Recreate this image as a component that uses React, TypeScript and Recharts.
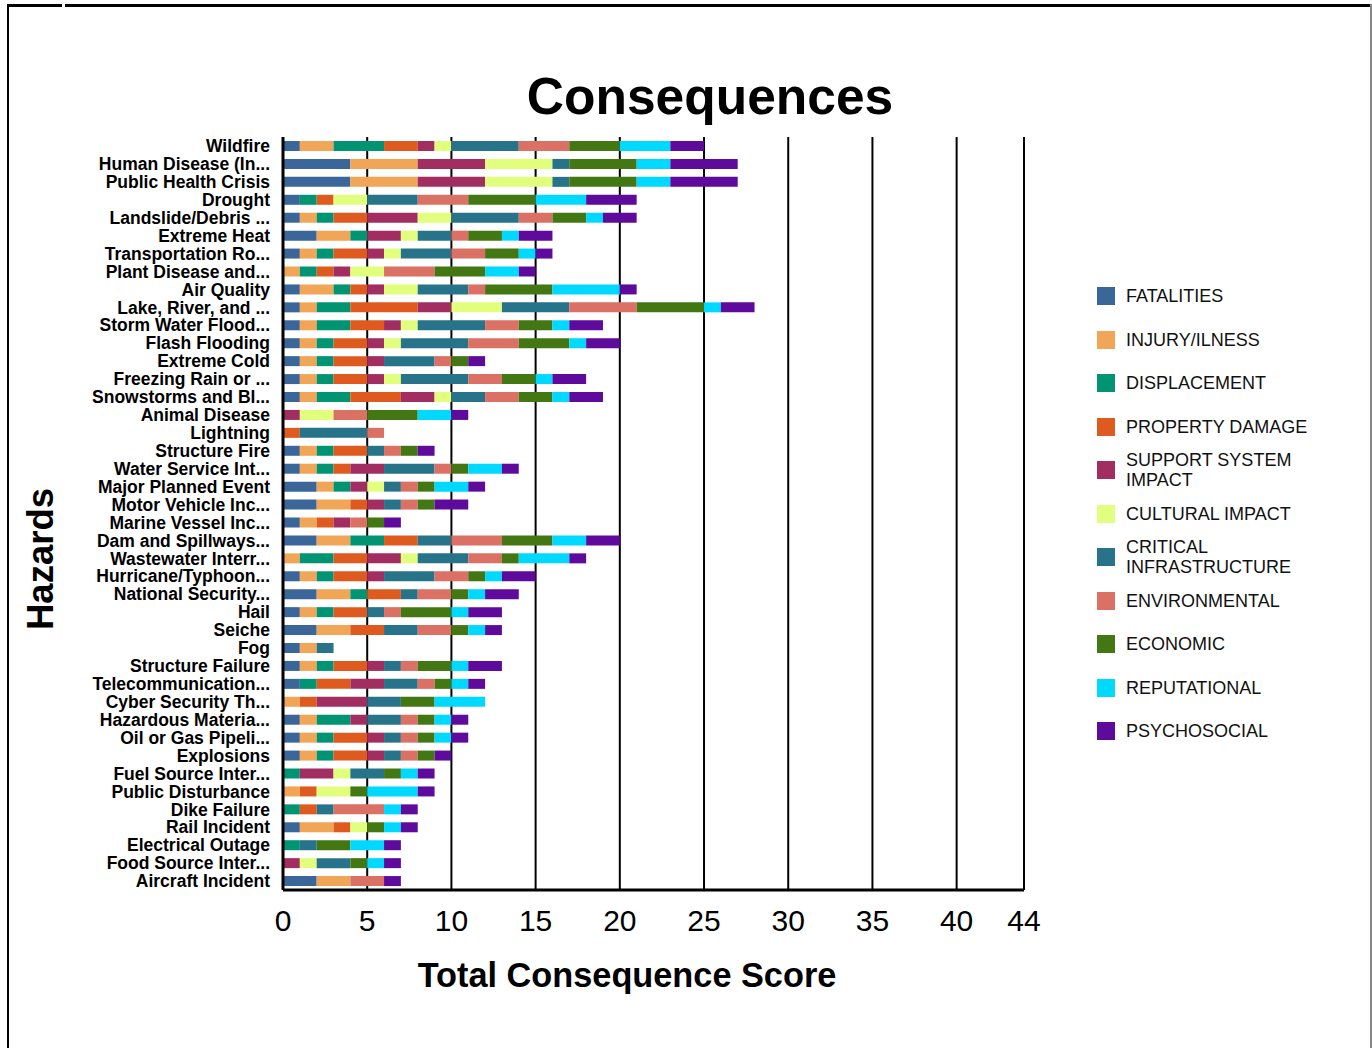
import React from 'react';
import { BarChart, Bar, XAxis, YAxis, CartesianGrid } from 'recharts';

const hazards = [
  'Wildfire', 'Human Disease (In...', 'Public Health Crisis', 'Drought', 'Landslide/Debris ...',
  'Extreme Heat', 'Transportation Ro...', 'Plant Disease and...', 'Air Quality', 'Lake, River, and ...',
  'Storm Water Flood...', 'Flash Flooding', 'Extreme Cold', 'Freezing Rain or ...', 'Snowstorms and Bl...',
  'Animal Disease', 'Lightning', 'Structure Fire', 'Water Service Int...', 'Major Planned Event',
  'Motor Vehicle Inc...', 'Marine Vessel Inc...', 'Dam and Spillways...', 'Wastewater Interr...', 'Hurricane/Typhoon...',
  'National Security...', 'Hail', 'Seiche', 'Fog', 'Structure Failure',
  'Telecommunication...', 'Cyber Security Th...', 'Hazardous Materia...', 'Oil or Gas Pipeli...', 'Explosions',
  'Fuel Source Inter...', 'Public Disturbance', 'Dike Failure', 'Rail Incident', 'Electrical Outage',
  'Food Source Inter...', 'Aircraft Incident',
];

const fatalities = [1,4,4,1,1,2,1,0,1,1,1,1,1,1,1,0,0,1,1,2,2,1,2,0,1,2,1,2,1,1,1,0,1,1,1,0,0,0,1,0,0,2];
const injury = [2,4,4,0,1,2,1,1,2,1,1,1,1,1,1,0,0,1,1,1,2,1,2,1,1,2,1,2,1,1,0,1,1,1,1,0,1,0,2,0,0,2];
const displacement = [3,0,0,1,1,1,1,1,1,2,2,1,1,1,2,0,0,1,1,1,0,0,2,2,1,1,1,0,0,1,1,0,2,1,1,1,0,1,0,1,0,0];
const propertyDamage = [2,0,0,1,2,0,2,1,1,4,2,2,2,2,3,0,1,2,1,0,1,1,2,2,2,2,2,2,0,2,2,1,0,2,2,0,1,1,1,0,0,0];
const supportSystem = [1,4,4,0,3,2,1,1,1,2,1,1,1,1,2,1,0,0,2,1,1,1,0,2,1,0,0,0,0,1,2,3,1,1,1,2,0,0,0,0,1,0];
const cultural = [1,4,4,2,2,1,1,2,2,3,1,1,0,1,1,2,0,0,0,1,0,0,0,1,0,0,0,0,0,0,0,0,0,0,0,1,2,0,1,0,1,0];
const critical = [4,1,1,3,4,2,3,0,3,4,4,4,3,4,2,0,4,1,3,1,1,0,2,3,3,1,1,2,1,1,2,2,2,1,1,2,0,1,0,1,2,0];
const environmental = [3,0,0,3,2,1,2,3,1,4,2,3,1,2,2,2,1,1,1,1,1,1,3,2,2,2,1,2,0,1,1,0,1,1,1,0,0,3,0,0,0,2];
const economic = [3,4,4,4,2,2,2,3,4,4,2,3,1,2,2,3,0,1,1,1,1,1,3,1,1,1,3,1,0,2,1,2,1,1,1,1,1,0,1,2,1,0];
const reputational = [3,2,2,3,1,1,1,2,4,1,1,1,0,1,1,2,0,0,2,2,0,0,2,3,1,1,1,1,0,1,1,3,1,1,0,1,3,1,1,2,1,0];
const psychosocial = [2,4,4,3,2,2,1,1,1,2,2,2,1,2,2,1,0,1,1,1,2,1,2,1,2,2,2,1,0,2,1,0,1,1,1,1,1,1,1,1,1,1];

const xTicks = [0, 5, 10, 15, 20, 25, 30, 35, 40, 44];

const series = [
  { key: 'FATALITIES', values: fatalities, color: '#3A6699' },
  { key: 'INJURY/ILNESS', values: injury, color: '#F0A557' },
  { key: 'DISPLACEMENT', values: displacement, color: '#009473' },
  { key: 'PROPERTY DAMAGE', values: propertyDamage, color: '#DE5A1F' },
  { key: 'SUPPORT SYSTEM IMPACT', values: supportSystem, color: '#A22D60' },
  { key: 'CULTURAL IMPACT', values: cultural, color: '#E1FE7D' },
  { key: 'CRITICAL INFRASTRUCTURE', values: critical, color: '#27748A' },
  { key: 'ENVIRONMENTAL', values: environmental, color: '#DB7065' },
  { key: 'ECONOMIC', values: economic, color: '#437713' },
  { key: 'REPUTATIONAL', values: reputational, color: '#00D9FF' },
  { key: 'PSYCHOSOCIAL', values: psychosocial, color: '#5E0A9C' },
];

const data = hazards.map((name, i) => {
  const row: Record<string, any> = { name };
  series.forEach((s) => { row[s.key] = s.values[i]; });
  return row;
});

const FONT = '"Liberation Sans", Arial, Helvetica, sans-serif';

export default function App() {
  return (
    <div style={{ position: 'absolute', left: 0, top: 0, width: 1372, height: 1048, background: '#fff', fontFamily: FONT, overflow: 'hidden' }}>
      {/* frame */}
      <div style={{ position: 'absolute', left: 7, top: 4, width: 55, height: 3, background: '#000' }} />
      <div style={{ position: 'absolute', left: 65, top: 4, width: 1307, height: 3, background: '#000' }} />
      <div style={{ position: 'absolute', left: 7, top: 4, width: 2, height: 1044, background: '#000' }} />
      <div style={{ position: 'absolute', left: 1370, top: 4, width: 2, height: 1044, background: '#888' }} />

      <div style={{ position: 'absolute', left: 0, top: 0 }}>
        <BarChart
          width={1372}
          height={1048}
          data={data}
          layout="vertical"
          margin={{ top: 137, right: 348, bottom: 98, left: 13 }}
          barSize={10}
        >
          <CartesianGrid horizontal={false} vertical={true} stroke="#000" strokeWidth={2} />
          <XAxis
            type="number"
            domain={[0, 44]}
            ticks={xTicks}
            interval={0}
            height={60}
            allowDataOverflow
            axisLine={{ stroke: '#000', strokeWidth: 3 }}
            tickLine={false}
            tickMargin={14}
            tick={{ fill: '#000', fontSize: 30, fontFamily: FONT }}
          />
          <YAxis
            type="category"
            dataKey="name"
            width={270}
            interval={0}
            axisLine={{ stroke: '#000', strokeWidth: 3 }}
            tickLine={false}
            tickMargin={7}
            tick={{ fill: '#000', fontSize: 17.5, fontWeight: 'bold', fontFamily: FONT }}
          />
          {series.map((s) => (
            <Bar key={s.key} dataKey={s.key} stackId="a" fill={s.color} isAnimationActive={false} />
          ))}
        </BarChart>
      </div>

      {/* title */}
      <div style={{ position: 'absolute', left: 410, width: 600, top: 66, textAlign: 'center', fontSize: 51.5, fontWeight: 'bold', color: '#000', lineHeight: '60px' }}>
        Consequences
      </div>
      {/* x axis label */}
      <div style={{ position: 'absolute', left: 327, width: 600, top: 955, textAlign: 'center', fontSize: 34.3, fontWeight: 'bold', color: '#000', lineHeight: '40px' }}>
        Total Consequence Score
      </div>
      {/* y axis label */}
      <div style={{ position: 'absolute', left: 41 - 100, top: 559 - 20, width: 200, height: 40, lineHeight: '40px', textAlign: 'center', fontSize: 36.5, fontWeight: 'bold', color: '#000', transform: 'rotate(-90deg)' }}>
        Hazards
      </div>

      {/* legend */}
      {series.map((s, i) => {
        const cy = 296 + i * 43.5;
        return (
          <React.Fragment key={s.key}>
            <div style={{ position: 'absolute', left: 1097, top: cy - 9, width: 18, height: 18, background: s.color }} />
            <div style={{ position: 'absolute', left: 1126, top: cy - 30, height: 60, width: 200, display: 'flex', alignItems: 'center', fontSize: 18, lineHeight: '20px', color: '#111' }}>
              <span>{s.key}</span>
            </div>
          </React.Fragment>
        );
      })}
    </div>
  );
}
